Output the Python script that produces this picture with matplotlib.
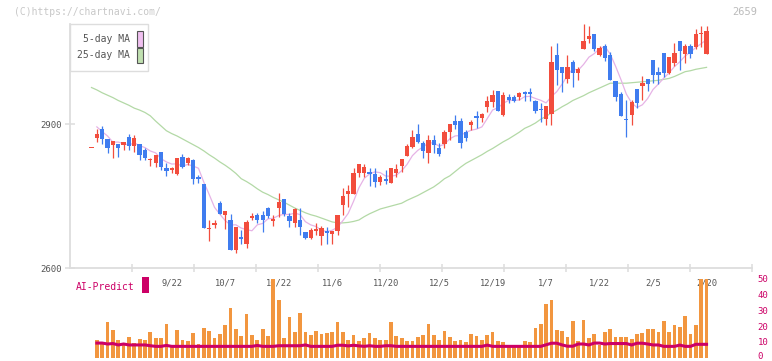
import numpy as np
import pandas as pd
import matplotlib
matplotlib.use('Agg')
from matplotlib import pyplot as plt
from matplotlib.patches import Rectangle
from matplotlib.transforms import ScaledTranslation

# daily candles (index 0 = first visible day)
opens = [2849, 2871, 2890, 2869, 2857, 2858, 2857, 2873, 2855, 2858,
         2846, 2824, 2819, 2842, 2808, 2804, 2796, 2832, 2819, 2826,
         2790, 2775, 2682, 2690, 2736, 2711, 2700, 2637, 2665, 2649,
         2705, 2710, 2710, 2726, 2698, 2725, 2744, 2708, 2694, 2701,
         2676, 2663, 2677, 2667, 2677, 2671, 2677, 2731, 2755, 2755,
         2798, 2798, 2801, 2796, 2780, 2785, 2778, 2798, 2812, 2833,
         2853, 2879, 2861, 2840, 2867, 2850, 2858, 2884, 2906, 2906,
         2883, 2898, 2917, 2913, 2935, 2946, 2969, 2919, 2956, 2957,
         2956, 2967, 2967, 2948, 2932, 2910, 2921, 3044, 3019, 2994,
         3029, 3007, 3056, 3078, 3088, 3044, 3063, 3044, 2990, 2963,
         2910, 2919, 2973, 2980, 2994, 3033, 3008, 3048, 3007, 3027,
         3073, 3046, 3063, 3061, 3087, 3046]
highs = [2849, 2890, 2896, 2869, 2864, 2858, 2862, 2879, 2877, 2858,
         2849, 2829, 2835, 2842, 2819, 2811, 2829, 2838, 2831, 2827,
         2794, 2775, 2700, 2700, 2740, 2719, 2712, 2686, 2679, 2700,
         2715, 2715, 2719, 2727, 2710, 2756, 2744, 2715, 2725, 2725,
         2676, 2683, 2694, 2688, 2686, 2677, 2711, 2766, 2773, 2808,
         2817, 2817, 2808, 2808, 2794, 2804, 2808, 2817, 2827, 2858,
         2888, 2901, 2865, 2877, 2877, 2860, 2888, 2901, 2919, 2912,
         2887, 2908, 2928, 2922, 2958, 2970, 2969, 2966, 2963, 2960,
         2967, 2969, 2975, 2951, 2944, 2937, 3063, 3069, 3019, 3044,
         3033, 3018, 3108, 3104, 3088, 3063, 3067, 3049, 2990, 2967,
         2950, 2951, 2973, 2999, 2994, 3033, 3019, 3048, 3040, 3068,
         3073, 3067, 3067, 3097, 3104, 3104]
lows = [2849, 2863, 2858, 2840, 2830, 2832, 2846, 2846, 2842, 2826,
        2826, 2812, 2811, 2804, 2792, 2798, 2794, 2808, 2815, 2776,
        2778, 2684, 2657, 2683, 2713, 2682, 2638, 2631, 2649, 2642,
        2700, 2694, 2676, 2704, 2687, 2707, 2708, 2686, 2686, 2669,
        2660, 2660, 2669, 2648, 2651, 2651, 2669, 2710, 2728, 2755,
        2790, 2790, 2771, 2769, 2773, 2776, 2778, 2790, 2800, 2833,
        2851, 2861, 2830, 2819, 2840, 2833, 2849, 2867, 2889, 2851,
        2865, 2888, 2892, 2905, 2926, 2935, 2928, 2917, 2944, 2945,
        2950, 2947, 2947, 2922, 2905, 2898, 2898, 2981, 2967, 2985,
        2978, 2992, 3056, 3068, 3052, 3042, 3032, 2992, 2947, 2917,
        2873, 2898, 2933, 2950, 2969, 2985, 2983, 2997, 3004, 3021,
        3013, 3028, 3038, 3057, 3061, 3046]
closes = [2849, 2879, 2869, 2849, 2864, 2851, 2862, 2855, 2871, 2836,
          2830, 2827, 2835, 2811, 2802, 2808, 2829, 2811, 2829, 2785,
          2785, 2684, 2684, 2694, 2713, 2719, 2638, 2686, 2660, 2696,
          2708, 2700, 2700, 2708, 2702, 2737, 2712, 2698, 2723, 2686,
          2663, 2679, 2681, 2684, 2672, 2677, 2711, 2749, 2760, 2798,
          2817, 2810, 2796, 2780, 2790, 2782, 2808, 2807, 2827, 2855,
          2873, 2863, 2844, 2867, 2857, 2838, 2883, 2901, 2897, 2861,
          2871, 2905, 2913, 2920, 2948, 2960, 2928, 2960, 2950, 2948,
          2964, 2963, 2963, 2928, 2929, 2937, 3030, 3013, 3007, 3019,
          3007, 3014, 3073, 3083, 3056, 3058, 3038, 2992, 2957, 2917,
          2908, 2946, 2944, 2985, 2983, 3002, 3002, 3006, 3040, 3048,
          3052, 3063, 3046, 3088, 3088, 3094]

ma5_head = [np.nan, 2894, 2884, 2875]

ma25 = [2976, 2971, 2965, 2960, 2955, 2949, 2944, 2939, 2933, 2929,
        2924, 2917, 2906, 2896, 2886, 2880, 2875, 2869, 2863, 2857,
        2851, 2844, 2836, 2829, 2821, 2814, 2806, 2797, 2786, 2780,
        2773, 2765, 2758, 2753, 2747, 2742, 2737, 2731, 2725, 2720,
        2715, 2711, 2708, 2704, 2700, 2696, 2694, 2694, 2695, 2697,
        2700, 2707, 2713, 2718, 2723, 2726, 2729, 2732, 2735, 2741,
        2746, 2751, 2757, 2763, 2769, 2777, 2786, 2792, 2801, 2810,
        2818, 2824, 2830, 2836, 2843, 2849, 2856, 2863, 2869, 2876,
        2883, 2891, 2896, 2902, 2910, 2916, 2923, 2929, 2936, 2942,
        2949, 2954, 2959, 2965, 2970, 2975, 2980, 2985, 2985, 2985,
        2985, 2986, 2987, 2988, 2989, 2990, 2991, 2993, 2995, 2999,
        3004, 3009, 3011, 3014, 3016, 3018]

volume = [np.nan, 11.2, 9.1, 22.7, 17.6, 11.2, 9.1, 13.1, 9.3, 11.9,
          11.2, 16.5, 12.5, 12.5, 21.4, 7.4, 17.6, 11.2, 10.6, 15.7,
          8.7, 18.9, 17.0, 12.5, 15.1, 20.8, 31.6, 18.2, 13.8, 27.8,
          14.4, 11.2, 18.2, 13.8, 55.0, 36.7, 12.5, 25.8, 16.3, 28.6,
          16.3, 14.4, 17.0, 15.1, 15.7, 16.3, 22.7, 16.3, 11.2, 14.4,
          10.6, 12.5, 15.7, 12.5, 11.2, 11.2, 22.7, 13.8, 12.5, 10.6,
          10.6, 13.1, 14.4, 21.4, 14.4, 11.2, 17.0, 13.1, 10.6, 11.2,
          10.0, 15.1, 13.8, 11.2, 14.4, 16.3, 10.6, 10.0, 7.4, 7.4,
          7.4, 10.6, 10.0, 18.9, 21.4, 34.1, 36.7, 17.6, 17.0, 13.1,
          23.3, 10.6, 23.9, 12.5, 15.1, 8.0, 16.3, 18.2, 13.1, 13.1,
          13.1, 11.9, 15.1, 15.7, 18.2, 18.2, 16.3, 23.3, 16.3, 20.8,
          19.5, 26.5, 15.1, 20.8, 55.0, 55.0]

ai_predict = [np.nan, 9.3, 9.3, 8.7, 9.0, 8.1, 8.7, 8.1, 8.1, 8.1,
              8.1, 7.6, 7.2, 7.2, 7.8, 7.2, 7.2, 7.2, 7.2, 7.2,
              7.2, 7.2, 7.2, 7.2, 7.2, 7.2, 7.2, 7.2, 7.2, 7.2,
              7.2, 7.8, 7.2, 7.2, 7.2, 7.6, 7.6, 7.6, 7.6, 7.6,
              8.1, 7.2, 7.2, 7.2, 7.2, 7.2, 7.9, 7.9, 7.5, 7.9,
              7.5, 7.2, 7.6, 7.2, 7.2, 7.6, 7.6, 7.2, 7.2, 7.2,
              7.2, 7.2, 7.2, 7.2, 7.2, 7.2, 7.2, 7.2, 7.2, 7.2,
              7.2, 7.2, 7.2, 7.2, 8.0, 7.2, 7.2, 7.2, 7.2, 7.2,
              7.2, 7.2, 7.2, 7.2, 7.2, 8.2, 9.2, 9.2, 8.1, 7.3,
              7.3, 8.7, 8.7, 8.1, 9.3, 9.3, 8.7, 9.0, 9.0, 9.0,
              9.0, 8.1, 9.2, 9.2, 8.7, 8.1, 8.1, 7.2, 7.2, 7.2,
              8.0, 7.2, 7.2, 8.5, 8.5, 8.5]

date_labels = ['9/22', '10/7', '10/22', '11/6', '11/20', '12/5',
               '12/19', '1/7', '1/22', '2/5', '2/20']
date_pos = [15, 25, 35, 45, 55, 65, 75, 85, 95, 105, 115]

RED = '#f24d3d'
BLUE = '#3f7cef'
ORANGE = '#f2963f'
CRIMSON = '#cc0066'
PINK = '#e6b3e6'
GREEN = '#b3d9a6'
AXC = '#dddddd'
TXT = '#555555'
MONO = 'DejaVu Sans Mono'

W, H = 772, 361
fig = plt.figure(figsize=(W / 100, H / 100), dpi=100)

def fx(px):
    return px / W

def fy(py):
    return 1 - py / H

xl = (-4.02, 123.5)
ax = fig.add_axes([fx(70), fy(268), fx(752) - fx(70), fy(20) - fy(268)])
vol = fig.add_axes([fx(70), fy(357.7), fx(752) - fx(70), fy(279) - fy(357.7)])
vol.set_facecolor('none')

idx = np.arange(len(closes))
o = np.array(opens, float)
c = np.array(closes, float)
hi = np.array(highs, float)
lo = np.array(lows, float)
col = np.where(c >= o, RED, BLUE)

ma5 = pd.Series(c).rolling(5).mean().to_numpy()
ma5[:4] = ma5_head
ax.plot(idx, ma25, color=GREEN, lw=0.9, zorder=1)
ax.plot(idx, ma5, color=PINK, lw=0.9, zorder=1)

ax.vlines(idx, lo, hi, colors=col, lw=0.9, zorder=2)
bh = np.maximum(np.abs(c - o), 2.2)
ax.bar(idx, bh, bottom=np.minimum(o, c), width=0.8, color=col, lw=0, zorder=3)

ax.set_xlim(*xl)
ax.set_ylim(2600, 2600 + 248 * 300 / 144)
for s in ['top', 'right']:
    ax.spines[s].set_visible(False)
for s in ['left', 'bottom']:
    ax.spines[s].set_color(AXC)
    ax.spines[s].set_linewidth(1.3)
ax.spines['left'].set_bounds(2600, 2600 + 244 * 300 / 144)

ax.set_yticks([2600, 2900], ['2600', '2900'])
ax.tick_params(axis='y', direction='inout', length=6.5, width=1.1, color=AXC,
               labelcolor=TXT, labelsize=6.5, pad=2.5)
ax.set_xticks(date_pos, date_labels)
ax.tick_params(axis='x', which='major', length=0, labelcolor=TXT,
               labelsize=6.3, pad=7.3)
ax.set_xticks(xl[0] + (xl[1] - xl[0]) / 11 * np.arange(1, 12), minor=True)
ax.tick_params(axis='x', which='minor', direction='inout', length=6,
               width=1.1, color=AXC)
for t in ax.get_xticklabels() + ax.get_yticklabels():
    t.set_family(MONO)

vol.bar(idx, volume, width=0.7, color=ORANGE, lw=0)
vol.plot(idx, ai_predict, color=CRIMSON, lw=2.2, solid_joinstyle='miter')
vol.set_xlim(*xl)
vol.set_ylim(0, 50)
for s in vol.spines.values():
    s.set_visible(False)
vol.set_xticks([])
vol.yaxis.tick_right()
vol.set_yticks([0, 10, 20, 30, 40, 50])
vol.tick_params(axis='y', length=0, labelcolor=CRIMSON, labelsize=6.5, pad=4)
for t in vol.get_yticklabels():
    t.set_family(MONO)
# keep the "0" label inside the canvas
zero = vol.get_yticklabels()[0]
zero.set_transform(zero.get_transform()
                   + ScaledTranslation(0, 2.5 / 100, fig.dpi_scale_trans))

# header texts
fig.text(fx(14), fy(12), '(C)https://chartnavi.com/', color='#c8c8c8',
         fontsize=7, family=MONO, va='center')
fig.text(fx(757), fy(12), '2659', color='#bbbbbb', fontsize=7.5,
         family=MONO, va='center', ha='right')

# legend box
fig.patches.append(Rectangle((fx(70), fy(71)), fx(78), 47 / H,
                             transform=fig.transFigure, facecolor='white',
                             edgecolor=AXC, lw=1, zorder=5))
for yy, lab, fc in [(39, '5-day MA', '#f0c0f0'), (55.5, '25-day MA', '#c0e0b0')]:
    fig.text(fx(130), fy(yy), lab, color=TXT, fontsize=7, family=MONO,
             ha='right', va='center', zorder=6)
    fig.patches.append(Rectangle((fx(136.5), fy(yy + 7.5)), fx(6), 15 / H,
                                 transform=fig.transFigure, facecolor=fc,
                                 edgecolor='#555555', lw=0.8, zorder=6))

# AI-Predict label
fig.text(fx(76), fy(287), 'AI-Predict', color=CRIMSON, fontsize=7,
         family=MONO, va='center')
fig.patches.append(Rectangle((fx(142), fy(293)), fx(7), 16 / H,
                             transform=fig.transFigure, facecolor=CRIMSON,
                             edgecolor='none', zorder=6))

fig.savefig('out.png', dpi=100)
